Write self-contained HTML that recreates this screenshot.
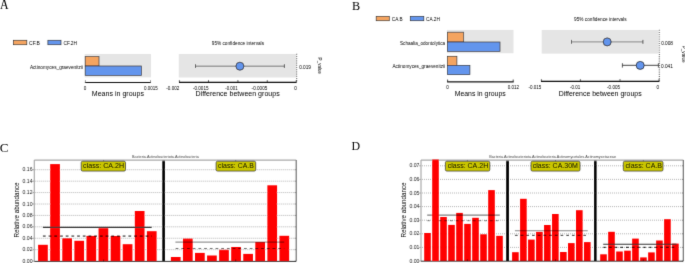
<!DOCTYPE html>
<html><head><meta charset="utf-8"><style>
html,body{margin:0;padding:0;background:#fff;width:685px;height:263px;overflow:hidden}
svg{display:block;will-change:transform}
</style></head><body>
<svg width="685" height="263" viewBox="0 0 685 263">
<defs><filter id="bl" x="-1%" y="-1%" width="102%" height="102%"><feConvolveMatrix order="3" kernelMatrix="0.0100 0.0800 0.0100 0.0800 0.6400 0.0800 0.0100 0.0800 0.0100" divisor="1" edgeMode="duplicate" preserveAlpha="false"/></filter></defs>
<rect x="0" y="0" width="685" height="263" fill="#fff"/>
<g filter="url(#bl)">
<text x="0" y="0" font-size="12.2" fill="#000" style='font-family:"Liberation Serif", serif' transform="translate(0.1 8.7) scale(0.97 1.15)">A</text>
<text x="0" y="0" font-size="12.2" fill="#000" style='font-family:"Liberation Serif", serif' transform="translate(352.1 9.8) scale(1.0 1.08)">B</text>
<text x="0" y="0" font-size="12.4" fill="#000" style='font-family:"Liberation Serif", serif' transform="translate(-0.2 151.6) scale(1.06 1.08)">C</text>
<text x="0" y="0" font-size="11.9" fill="#000" style='font-family:"Liberation Serif", serif' transform="translate(351.6 150.3) scale(1.0 1.08)">D</text>
<rect x="13.40" y="40.30" width="13.40" height="4.40" fill="#f4a460" stroke="#333" stroke-width="0.7" />
<text x="29.0" y="44.6" font-size="4.7" text-anchor="start" fill="#000" style='font-family:"Liberation Sans", sans-serif' textLength="10.9" lengthAdjust="spacingAndGlyphs" >CF.B</text>
<rect x="47.90" y="40.30" width="13.10" height="4.40" fill="#6495ed" stroke="#333" stroke-width="0.7" />
<text x="63.6" y="44.6" font-size="4.7" text-anchor="start" fill="#000" style='font-family:"Liberation Sans", sans-serif' textLength="13.4" lengthAdjust="spacingAndGlyphs" >CF.2H</text>
<rect x="84.70" y="54.00" width="66.30" height="23.40" fill="#e5e5e5" />
<rect x="85.20" y="56.40" width="13.80" height="9.60" fill="#f4a460" stroke="#333" stroke-width="0.7" />
<rect x="85.20" y="66.00" width="56.30" height="9.50" fill="#6495ed" stroke="#333" stroke-width="0.7" />
<text x="82.9" y="68.5" font-size="4.7" text-anchor="end" fill="#000" style='font-family:"Liberation Sans", sans-serif' textLength="53.0" lengthAdjust="spacingAndGlyphs" >Actinomyces_graevenitzii</text>
<line x1="84.90" y1="82.50" x2="150.90" y2="82.50" stroke="#111" stroke-width="1.1" />
<line x1="85.40" y1="80.20" x2="85.40" y2="82.50" stroke="#777" stroke-width="0.8" />
<line x1="150.50" y1="80.20" x2="150.50" y2="82.50" stroke="#777" stroke-width="0.8" />
<text x="85.0" y="89.6" font-size="4.6" text-anchor="middle" fill="#000" style='font-family:"Liberation Sans", sans-serif' >0</text>
<text x="150.9" y="89.6" font-size="4.6" text-anchor="middle" fill="#000" style='font-family:"Liberation Sans", sans-serif' textLength="13.7" lengthAdjust="spacingAndGlyphs" >0.0015</text>
<text x="91.8" y="96.2" font-size="7.0" text-anchor="start" fill="#000" style='font-family:"Liberation Sans", sans-serif' textLength="52.2" lengthAdjust="spacingAndGlyphs" >Means in groups</text>
<text x="211.8" y="45.2" font-size="4.7" text-anchor="start" fill="#000" style='font-family:"Liberation Sans", sans-serif' textLength="52.2" lengthAdjust="spacingAndGlyphs" >95% confidence intervals</text>
<rect x="178.80" y="54.00" width="117.70" height="23.50" fill="#e5e5e5" />
<line x1="296.70" y1="53.80" x2="296.70" y2="82.00" stroke="#222" stroke-width="0.8" stroke-dasharray="1 1.2"/>
<line x1="195.30" y1="66.20" x2="284.50" y2="66.20" stroke="#999" stroke-width="1.4" />
<line x1="195.50" y1="64.20" x2="195.50" y2="68.00" stroke="#444" stroke-width="0.9" />
<line x1="284.40" y1="64.20" x2="284.40" y2="68.00" stroke="#444" stroke-width="0.9" />
<circle cx="239.9" cy="66.2" r="4.0" fill="#6495ed" stroke="#222" stroke-width="0.8"/>
<line x1="179.00" y1="82.30" x2="296.60" y2="82.30" stroke="#111" stroke-width="1.2" />
<line x1="179.40" y1="80.20" x2="179.40" y2="82.30" stroke="#111" stroke-width="0.7" />
<line x1="208.50" y1="80.20" x2="208.50" y2="82.30" stroke="#111" stroke-width="0.7" />
<line x1="237.90" y1="80.20" x2="237.90" y2="82.30" stroke="#111" stroke-width="0.7" />
<line x1="267.30" y1="80.20" x2="267.30" y2="82.30" stroke="#111" stroke-width="0.7" />
<line x1="296.30" y1="80.20" x2="296.30" y2="82.30" stroke="#111" stroke-width="0.7" />
<text x="179.3" y="89.5" font-size="4.6" text-anchor="end" fill="#000" style='font-family:"Liberation Sans", sans-serif' textLength="13.0" lengthAdjust="spacingAndGlyphs" >-0.002</text>
<text x="208.6" y="89.5" font-size="4.6" text-anchor="end" fill="#000" style='font-family:"Liberation Sans", sans-serif' textLength="15.7" lengthAdjust="spacingAndGlyphs" >-0.0015</text>
<text x="237.6" y="89.5" font-size="4.6" text-anchor="end" fill="#000" style='font-family:"Liberation Sans", sans-serif' textLength="12.3" lengthAdjust="spacingAndGlyphs" >-0.001</text>
<text x="267.3" y="89.5" font-size="4.6" text-anchor="end" fill="#000" style='font-family:"Liberation Sans", sans-serif' textLength="15.7" lengthAdjust="spacingAndGlyphs" >-0.0005</text>
<text x="296.8" y="89.5" font-size="4.6" text-anchor="end" fill="#000" style='font-family:"Liberation Sans", sans-serif' textLength="2.6" lengthAdjust="spacingAndGlyphs" >0</text>
<text x="195.5" y="96.1" font-size="7.0" text-anchor="start" fill="#000" style='font-family:"Liberation Sans", sans-serif' textLength="84.2" lengthAdjust="spacingAndGlyphs" >Difference between groups</text>
<text x="299.2" y="68.8" font-size="4.6" text-anchor="start" fill="#000" style='font-family:"Liberation Sans", sans-serif' textLength="11.8" lengthAdjust="spacingAndGlyphs" >0.019</text>
<text x="318.0" y="57.6" font-size="4.6" text-anchor="start" fill="#000" style='font-family:"Liberation Sans", sans-serif' textLength="16.4" lengthAdjust="spacingAndGlyphs" transform="rotate(90 318.0 57.6)" >P_value</text>
<rect x="376.20" y="16.40" width="13.10" height="4.30" fill="#f4a460" stroke="#333" stroke-width="0.7" />
<text x="391.8" y="20.5" font-size="4.7" text-anchor="start" fill="#000" style='font-family:"Liberation Sans", sans-serif' textLength="10.9" lengthAdjust="spacingAndGlyphs" >CA.B</text>
<rect x="410.30" y="16.40" width="13.50" height="4.30" fill="#6495ed" stroke="#333" stroke-width="0.7" />
<text x="426.0" y="20.5" font-size="4.7" text-anchor="start" fill="#000" style='font-family:"Liberation Sans", sans-serif' textLength="13.9" lengthAdjust="spacingAndGlyphs" >CA.2H</text>
<rect x="446.90" y="29.90" width="66.60" height="23.30" fill="#e5e5e5" />
<rect x="447.50" y="32.20" width="16.20" height="9.80" fill="#f4a460" stroke="#333" stroke-width="0.7" />
<rect x="447.50" y="42.00" width="52.50" height="9.50" fill="#6495ed" stroke="#333" stroke-width="0.7" />
<rect x="447.50" y="56.30" width="9.40" height="9.10" fill="#f4a460" stroke="#333" stroke-width="0.7" />
<rect x="447.50" y="65.40" width="22.40" height="9.20" fill="#6495ed" stroke="#333" stroke-width="0.7" />
<text x="445.2" y="45.2" font-size="4.7" text-anchor="end" fill="#000" style='font-family:"Liberation Sans", sans-serif' textLength="45.2" lengthAdjust="spacingAndGlyphs" >Schaalia_odontolytica</text>
<text x="445.2" y="68.4" font-size="4.7" text-anchor="end" fill="#000" style='font-family:"Liberation Sans", sans-serif' textLength="52.8" lengthAdjust="spacingAndGlyphs" >Actinomyces_graevenitzii</text>
<line x1="447.20" y1="81.80" x2="513.60" y2="81.80" stroke="#111" stroke-width="1.2" />
<line x1="447.60" y1="79.60" x2="447.60" y2="81.80" stroke="#111" stroke-width="0.8" />
<line x1="513.20" y1="79.60" x2="513.20" y2="81.80" stroke="#111" stroke-width="0.8" />
<text x="447.5" y="88.8" font-size="4.6" text-anchor="middle" fill="#000" style='font-family:"Liberation Sans", sans-serif' >0</text>
<text x="513.4" y="88.8" font-size="4.6" text-anchor="middle" fill="#000" style='font-family:"Liberation Sans", sans-serif' textLength="11.4" lengthAdjust="spacingAndGlyphs" >0.012</text>
<text x="454.7" y="96.0" font-size="7.0" text-anchor="start" fill="#000" style='font-family:"Liberation Sans", sans-serif' textLength="51.0" lengthAdjust="spacingAndGlyphs" >Means in groups</text>
<text x="574.0" y="21.2" font-size="4.7" text-anchor="start" fill="#000" style='font-family:"Liberation Sans", sans-serif' textLength="52.6" lengthAdjust="spacingAndGlyphs" >95% confidence intervals</text>
<rect x="541.70" y="30.00" width="116.90" height="23.60" fill="#e5e5e5" />
<line x1="659.30" y1="29.80" x2="659.30" y2="81.00" stroke="#222" stroke-width="0.8" stroke-dasharray="1 1.2"/>
<line x1="571.40" y1="41.90" x2="642.90" y2="41.90" stroke="#999" stroke-width="1.4" />
<line x1="571.50" y1="39.90" x2="571.50" y2="43.80" stroke="#444" stroke-width="0.9" />
<line x1="642.90" y1="39.90" x2="642.90" y2="43.80" stroke="#444" stroke-width="0.9" />
<circle cx="607.2" cy="41.9" r="4.0" fill="#6495ed" stroke="#222" stroke-width="0.8"/>
<line x1="622.30" y1="65.30" x2="658.40" y2="65.30" stroke="#444" stroke-width="1.0" />
<line x1="622.40" y1="63.20" x2="622.40" y2="67.60" stroke="#444" stroke-width="0.9" />
<line x1="658.40" y1="63.20" x2="658.40" y2="67.60" stroke="#444" stroke-width="0.9" />
<circle cx="640.2" cy="65.4" r="4.0" fill="#6495ed" stroke="#222" stroke-width="0.8"/>
<line x1="541.00" y1="81.40" x2="659.40" y2="81.40" stroke="#111" stroke-width="1.2" />
<line x1="541.40" y1="79.20" x2="541.40" y2="81.40" stroke="#111" stroke-width="0.7" />
<line x1="580.40" y1="79.20" x2="580.40" y2="81.40" stroke="#111" stroke-width="0.7" />
<line x1="620.00" y1="79.20" x2="620.00" y2="81.40" stroke="#111" stroke-width="0.7" />
<line x1="659.00" y1="79.20" x2="659.00" y2="81.40" stroke="#111" stroke-width="0.7" />
<text x="541.3" y="88.8" font-size="4.6" text-anchor="end" fill="#000" style='font-family:"Liberation Sans", sans-serif' textLength="12.8" lengthAdjust="spacingAndGlyphs" >-0.015</text>
<text x="580.2" y="88.8" font-size="4.6" text-anchor="end" fill="#000" style='font-family:"Liberation Sans", sans-serif' textLength="10.3" lengthAdjust="spacingAndGlyphs" >-0.01</text>
<text x="620.0" y="88.8" font-size="4.6" text-anchor="end" fill="#000" style='font-family:"Liberation Sans", sans-serif' textLength="12.9" lengthAdjust="spacingAndGlyphs" >-0.005</text>
<text x="659.1" y="88.8" font-size="4.6" text-anchor="end" fill="#000" style='font-family:"Liberation Sans", sans-serif' textLength="2.6" lengthAdjust="spacingAndGlyphs" >0</text>
<text x="558.7" y="96.1" font-size="7.0" text-anchor="start" fill="#000" style='font-family:"Liberation Sans", sans-serif' textLength="83.0" lengthAdjust="spacingAndGlyphs" >Difference between groups</text>
<text x="661.2" y="44.6" font-size="4.6" text-anchor="start" fill="#000" style='font-family:"Liberation Sans", sans-serif' textLength="11.8" lengthAdjust="spacingAndGlyphs" >0.008</text>
<text x="661.0" y="67.8" font-size="4.6" text-anchor="start" fill="#000" style='font-family:"Liberation Sans", sans-serif' textLength="11.8" lengthAdjust="spacingAndGlyphs" >0.041</text>
<text x="682.0" y="45.5" font-size="4.6" text-anchor="start" fill="#000" style='font-family:"Liberation Sans", sans-serif' textLength="17.2" lengthAdjust="spacingAndGlyphs" transform="rotate(90 682.0 45.5)" >P_value</text>
<line x1="32.50" y1="261.10" x2="34.30" y2="261.10" stroke="#555" stroke-width="0.6" />
<line x1="294.70" y1="261.10" x2="296.20" y2="261.10" stroke="#555" stroke-width="0.6" />
<text x="32.5" y="262.70000000000005" font-size="4.5" text-anchor="end" fill="#222" style='font-family:"Liberation Sans", sans-serif' textLength="10.0" lengthAdjust="spacingAndGlyphs" >0.00</text>
<line x1="35.30" y1="249.68" x2="295.20" y2="249.68" stroke="#b4b4b4" stroke-width="1.0" stroke-dasharray="1 1"/>
<line x1="32.50" y1="249.68" x2="34.30" y2="249.68" stroke="#555" stroke-width="0.6" />
<line x1="294.70" y1="249.68" x2="296.20" y2="249.68" stroke="#555" stroke-width="0.6" />
<text x="32.5" y="251.28000000000003" font-size="4.5" text-anchor="end" fill="#222" style='font-family:"Liberation Sans", sans-serif' textLength="10.0" lengthAdjust="spacingAndGlyphs" >0.02</text>
<line x1="35.30" y1="238.26" x2="295.20" y2="238.26" stroke="#b4b4b4" stroke-width="1.0" stroke-dasharray="1 1"/>
<line x1="32.50" y1="238.26" x2="34.30" y2="238.26" stroke="#555" stroke-width="0.6" />
<line x1="294.70" y1="238.26" x2="296.20" y2="238.26" stroke="#555" stroke-width="0.6" />
<text x="32.5" y="239.86" font-size="4.5" text-anchor="end" fill="#222" style='font-family:"Liberation Sans", sans-serif' textLength="10.0" lengthAdjust="spacingAndGlyphs" >0.04</text>
<line x1="35.30" y1="226.84" x2="295.20" y2="226.84" stroke="#b4b4b4" stroke-width="1.0" stroke-dasharray="1 1"/>
<line x1="32.50" y1="226.84" x2="34.30" y2="226.84" stroke="#555" stroke-width="0.6" />
<line x1="294.70" y1="226.84" x2="296.20" y2="226.84" stroke="#555" stroke-width="0.6" />
<text x="32.5" y="228.44000000000003" font-size="4.5" text-anchor="end" fill="#222" style='font-family:"Liberation Sans", sans-serif' textLength="10.0" lengthAdjust="spacingAndGlyphs" >0.06</text>
<line x1="35.30" y1="215.42" x2="295.20" y2="215.42" stroke="#b4b4b4" stroke-width="1.0" stroke-dasharray="1 1"/>
<line x1="32.50" y1="215.42" x2="34.30" y2="215.42" stroke="#555" stroke-width="0.6" />
<line x1="294.70" y1="215.42" x2="296.20" y2="215.42" stroke="#555" stroke-width="0.6" />
<text x="32.5" y="217.02" font-size="4.5" text-anchor="end" fill="#222" style='font-family:"Liberation Sans", sans-serif' textLength="10.0" lengthAdjust="spacingAndGlyphs" >0.08</text>
<line x1="35.30" y1="204.00" x2="295.20" y2="204.00" stroke="#b4b4b4" stroke-width="1.0" stroke-dasharray="1 1"/>
<line x1="32.50" y1="204.00" x2="34.30" y2="204.00" stroke="#555" stroke-width="0.6" />
<line x1="294.70" y1="204.00" x2="296.20" y2="204.00" stroke="#555" stroke-width="0.6" />
<text x="32.5" y="205.60000000000002" font-size="4.5" text-anchor="end" fill="#222" style='font-family:"Liberation Sans", sans-serif' textLength="10.0" lengthAdjust="spacingAndGlyphs" >0.10</text>
<line x1="35.30" y1="192.58" x2="295.20" y2="192.58" stroke="#b4b4b4" stroke-width="1.0" stroke-dasharray="1 1"/>
<line x1="32.50" y1="192.58" x2="34.30" y2="192.58" stroke="#555" stroke-width="0.6" />
<line x1="294.70" y1="192.58" x2="296.20" y2="192.58" stroke="#555" stroke-width="0.6" />
<text x="32.5" y="194.18000000000004" font-size="4.5" text-anchor="end" fill="#222" style='font-family:"Liberation Sans", sans-serif' textLength="10.0" lengthAdjust="spacingAndGlyphs" >0.12</text>
<line x1="35.30" y1="181.16" x2="295.20" y2="181.16" stroke="#b4b4b4" stroke-width="1.0" stroke-dasharray="1 1"/>
<line x1="32.50" y1="181.16" x2="34.30" y2="181.16" stroke="#555" stroke-width="0.6" />
<line x1="294.70" y1="181.16" x2="296.20" y2="181.16" stroke="#555" stroke-width="0.6" />
<text x="32.5" y="182.76000000000002" font-size="4.5" text-anchor="end" fill="#222" style='font-family:"Liberation Sans", sans-serif' textLength="10.0" lengthAdjust="spacingAndGlyphs" >0.14</text>
<line x1="35.30" y1="169.74" x2="295.20" y2="169.74" stroke="#b4b4b4" stroke-width="1.0" stroke-dasharray="1 1"/>
<line x1="32.50" y1="169.74" x2="34.30" y2="169.74" stroke="#555" stroke-width="0.6" />
<line x1="294.70" y1="169.74" x2="296.20" y2="169.74" stroke="#555" stroke-width="0.6" />
<text x="32.5" y="171.34" font-size="4.5" text-anchor="end" fill="#222" style='font-family:"Liberation Sans", sans-serif' textLength="10.0" lengthAdjust="spacingAndGlyphs" >0.16</text>
<rect x="38.10" y="244.80" width="9.70" height="16.30" fill="#ff0000" />
<rect x="50.19" y="164.10" width="9.70" height="97.00" fill="#ff0000" />
<rect x="62.28" y="238.30" width="9.70" height="22.80" fill="#ff0000" />
<rect x="74.37" y="240.80" width="9.70" height="20.30" fill="#ff0000" />
<rect x="86.46" y="235.90" width="9.70" height="25.20" fill="#ff0000" />
<rect x="98.55" y="228.20" width="9.70" height="32.90" fill="#ff0000" />
<rect x="110.64" y="236.00" width="9.70" height="25.10" fill="#ff0000" />
<rect x="122.73" y="244.20" width="9.70" height="16.90" fill="#ff0000" />
<rect x="134.82" y="211.00" width="9.70" height="50.10" fill="#ff0000" />
<rect x="146.91" y="231.20" width="9.70" height="29.90" fill="#ff0000" />
<line x1="42.90" y1="227.40" x2="151.70" y2="227.40" stroke="#333" stroke-width="1.1" />
<line x1="42.90" y1="236.20" x2="151.70" y2="236.20" stroke="rgba(0,0,0,0.78)" stroke-width="1.2" stroke-dasharray="2.8 2.9"/>
<rect x="170.90" y="257.00" width="9.70" height="4.10" fill="#ff0000" />
<rect x="182.96" y="238.60" width="9.70" height="22.50" fill="#ff0000" />
<rect x="195.02" y="252.90" width="9.70" height="8.20" fill="#ff0000" />
<rect x="207.08" y="255.50" width="9.70" height="5.60" fill="#ff0000" />
<rect x="219.14" y="249.80" width="9.70" height="11.30" fill="#ff0000" />
<rect x="231.20" y="247.00" width="9.70" height="14.10" fill="#ff0000" />
<rect x="243.26" y="253.90" width="9.70" height="7.20" fill="#ff0000" />
<rect x="255.32" y="242.10" width="9.70" height="19.00" fill="#ff0000" />
<rect x="267.38" y="185.30" width="9.70" height="75.80" fill="#ff0000" />
<rect x="279.44" y="235.80" width="9.70" height="25.30" fill="#ff0000" />
<line x1="175.40" y1="242.10" x2="284.20" y2="242.10" stroke="rgba(0,0,0,0.42)" stroke-width="1.1" />
<line x1="175.60" y1="248.50" x2="284.20" y2="248.50" stroke="rgba(0,0,0,0.65)" stroke-width="1.2" stroke-dasharray="2.8 2.9"/>
<rect x="162.30" y="160.10" width="2.60" height="101.10" fill="#000" />
<line x1="34.30" y1="160.10" x2="296.20" y2="160.10" stroke="#aaa" stroke-width="1.2" />
<line x1="34.30" y1="160.10" x2="34.30" y2="261.20" stroke="#aaa" stroke-width="1.2" />
<line x1="296.20" y1="160.10" x2="296.20" y2="261.20" stroke="#666" stroke-width="1.1" />
<line x1="34.30" y1="261.40" x2="296.20" y2="261.40" stroke="#333" stroke-width="1.0" />
<line x1="103.60" y1="160.10" x2="103.60" y2="161.60" stroke="#444" stroke-width="0.6" />
<line x1="103.60" y1="259.60" x2="103.60" y2="261.20" stroke="#300" stroke-width="0.7" />
<line x1="235.70" y1="160.10" x2="235.70" y2="161.60" stroke="#444" stroke-width="0.6" />
<line x1="235.70" y1="259.60" x2="235.70" y2="261.20" stroke="#300" stroke-width="0.7" />
<rect x="81.20" y="161.20" width="44.30" height="9.90" fill="#c9c500" stroke="#333" stroke-width="0.75" rx="1.5" ry="1.5"/>
<text x="83.1" y="168.1" font-size="6.8" text-anchor="start" fill="#000" style='font-family:"Liberation Sans", sans-serif' textLength="40.9" lengthAdjust="spacingAndGlyphs" >class: CA.2H</text>
<rect x="216.10" y="161.20" width="39.60" height="9.90" fill="#c9c500" stroke="#333" stroke-width="0.75" rx="1.5" ry="1.5"/>
<text x="218.1" y="168.1" font-size="6.8" text-anchor="start" fill="#000" style='font-family:"Liberation Sans", sans-serif' textLength="35.7" lengthAdjust="spacingAndGlyphs" >class: CA.B</text>
<text x="132.1" y="157.8" font-size="3.8" text-anchor="start" fill="#444" style='font-family:"Liberation Sans", sans-serif' textLength="66.7" lengthAdjust="spacingAndGlyphs" >Bacteria.Actinobacteriota.Actinobacteria</text>
<text x="18.9" y="210.0" font-size="6.9" text-anchor="middle" fill="#000" style='font-family:"Liberation Sans", sans-serif' textLength="55.0" lengthAdjust="spacingAndGlyphs" transform="rotate(-90 18.9 210.0)" >Relative abundance</text>
<line x1="419.20" y1="261.00" x2="421.00" y2="261.00" stroke="#555" stroke-width="0.6" />
<line x1="681.80" y1="261.00" x2="683.30" y2="261.00" stroke="#555" stroke-width="0.6" />
<text x="419.4" y="262.6" font-size="4.5" text-anchor="end" fill="#222" style='font-family:"Liberation Sans", sans-serif' textLength="10.0" lengthAdjust="spacingAndGlyphs" >0.00</text>
<line x1="422.00" y1="247.40" x2="682.30" y2="247.40" stroke="#b4b4b4" stroke-width="1.0" stroke-dasharray="1 1"/>
<line x1="419.20" y1="247.40" x2="421.00" y2="247.40" stroke="#555" stroke-width="0.6" />
<line x1="681.80" y1="247.40" x2="683.30" y2="247.40" stroke="#555" stroke-width="0.6" />
<text x="419.4" y="249.0" font-size="4.5" text-anchor="end" fill="#222" style='font-family:"Liberation Sans", sans-serif' textLength="10.0" lengthAdjust="spacingAndGlyphs" >0.01</text>
<line x1="422.00" y1="233.80" x2="682.30" y2="233.80" stroke="#b4b4b4" stroke-width="1.0" stroke-dasharray="1 1"/>
<line x1="419.20" y1="233.80" x2="421.00" y2="233.80" stroke="#555" stroke-width="0.6" />
<line x1="681.80" y1="233.80" x2="683.30" y2="233.80" stroke="#555" stroke-width="0.6" />
<text x="419.4" y="235.4" font-size="4.5" text-anchor="end" fill="#222" style='font-family:"Liberation Sans", sans-serif' textLength="10.0" lengthAdjust="spacingAndGlyphs" >0.02</text>
<line x1="422.00" y1="220.20" x2="682.30" y2="220.20" stroke="#b4b4b4" stroke-width="1.0" stroke-dasharray="1 1"/>
<line x1="419.20" y1="220.20" x2="421.00" y2="220.20" stroke="#555" stroke-width="0.6" />
<line x1="681.80" y1="220.20" x2="683.30" y2="220.20" stroke="#555" stroke-width="0.6" />
<text x="419.4" y="221.79999999999998" font-size="4.5" text-anchor="end" fill="#222" style='font-family:"Liberation Sans", sans-serif' textLength="10.0" lengthAdjust="spacingAndGlyphs" >0.03</text>
<line x1="422.00" y1="206.60" x2="682.30" y2="206.60" stroke="#b4b4b4" stroke-width="1.0" stroke-dasharray="1 1"/>
<line x1="419.20" y1="206.60" x2="421.00" y2="206.60" stroke="#555" stroke-width="0.6" />
<line x1="681.80" y1="206.60" x2="683.30" y2="206.60" stroke="#555" stroke-width="0.6" />
<text x="419.4" y="208.2" font-size="4.5" text-anchor="end" fill="#222" style='font-family:"Liberation Sans", sans-serif' textLength="10.0" lengthAdjust="spacingAndGlyphs" >0.04</text>
<line x1="422.00" y1="193.00" x2="682.30" y2="193.00" stroke="#b4b4b4" stroke-width="1.0" stroke-dasharray="1 1"/>
<line x1="419.20" y1="193.00" x2="421.00" y2="193.00" stroke="#555" stroke-width="0.6" />
<line x1="681.80" y1="193.00" x2="683.30" y2="193.00" stroke="#555" stroke-width="0.6" />
<text x="419.4" y="194.6" font-size="4.5" text-anchor="end" fill="#222" style='font-family:"Liberation Sans", sans-serif' textLength="10.0" lengthAdjust="spacingAndGlyphs" >0.05</text>
<line x1="422.00" y1="179.40" x2="682.30" y2="179.40" stroke="#b4b4b4" stroke-width="1.0" stroke-dasharray="1 1"/>
<line x1="419.20" y1="179.40" x2="421.00" y2="179.40" stroke="#555" stroke-width="0.6" />
<line x1="681.80" y1="179.40" x2="683.30" y2="179.40" stroke="#555" stroke-width="0.6" />
<text x="419.4" y="181.0" font-size="4.5" text-anchor="end" fill="#222" style='font-family:"Liberation Sans", sans-serif' textLength="10.0" lengthAdjust="spacingAndGlyphs" >0.06</text>
<line x1="422.00" y1="165.80" x2="682.30" y2="165.80" stroke="#b4b4b4" stroke-width="1.0" stroke-dasharray="1 1"/>
<line x1="419.20" y1="165.80" x2="421.00" y2="165.80" stroke="#555" stroke-width="0.6" />
<line x1="681.80" y1="165.80" x2="683.30" y2="165.80" stroke="#555" stroke-width="0.6" />
<text x="419.4" y="167.4" font-size="4.5" text-anchor="end" fill="#222" style='font-family:"Liberation Sans", sans-serif' textLength="10.0" lengthAdjust="spacingAndGlyphs" >0.07</text>
<rect x="424.20" y="233.00" width="6.60" height="28.00" fill="#ff0000" />
<rect x="440.20" y="217.00" width="6.60" height="44.00" fill="#ff0000" />
<rect x="448.20" y="224.90" width="6.60" height="36.10" fill="#ff0000" />
<rect x="456.20" y="212.90" width="6.60" height="48.10" fill="#ff0000" />
<rect x="464.20" y="223.90" width="6.60" height="37.10" fill="#ff0000" />
<rect x="472.20" y="217.80" width="6.60" height="43.20" fill="#ff0000" />
<rect x="480.20" y="234.20" width="6.60" height="26.80" fill="#ff0000" />
<rect x="488.20" y="190.10" width="6.60" height="70.90" fill="#ff0000" />
<rect x="496.20" y="235.80" width="6.60" height="25.20" fill="#ff0000" />
<line x1="427.20" y1="215.10" x2="499.80" y2="215.10" stroke="rgba(0,0,0,0.5)" stroke-width="1.1" />
<line x1="427.20" y1="220.70" x2="498.70" y2="220.70" stroke="rgba(0,0,0,0.42)" stroke-width="1.2" stroke-dasharray="2.8 2.9"/>
<rect x="512.10" y="252.20" width="6.60" height="8.80" fill="#ff0000" />
<rect x="520.09" y="198.80" width="6.60" height="62.20" fill="#ff0000" />
<rect x="528.08" y="239.60" width="6.60" height="21.40" fill="#ff0000" />
<rect x="536.07" y="231.90" width="6.60" height="29.10" fill="#ff0000" />
<rect x="544.06" y="225.00" width="6.60" height="36.00" fill="#ff0000" />
<rect x="552.05" y="214.00" width="6.60" height="47.00" fill="#ff0000" />
<rect x="560.04" y="252.00" width="6.60" height="9.00" fill="#ff0000" />
<rect x="568.03" y="243.10" width="6.60" height="17.90" fill="#ff0000" />
<rect x="576.02" y="210.20" width="6.60" height="50.80" fill="#ff0000" />
<rect x="584.01" y="242.10" width="6.60" height="18.90" fill="#ff0000" />
<line x1="514.90" y1="230.80" x2="587.70" y2="230.80" stroke="rgba(0,0,0,0.47)" stroke-width="1.1" />
<line x1="514.90" y1="235.30" x2="586.00" y2="235.30" stroke="rgba(0,0,0,0.65)" stroke-width="1.2" stroke-dasharray="2.8 2.9"/>
<rect x="600.20" y="254.30" width="6.60" height="6.70" fill="#ff0000" />
<rect x="608.19" y="231.80" width="6.60" height="29.20" fill="#ff0000" />
<rect x="616.18" y="251.50" width="6.60" height="9.50" fill="#ff0000" />
<rect x="624.17" y="250.70" width="6.60" height="10.30" fill="#ff0000" />
<rect x="632.16" y="238.60" width="6.60" height="22.40" fill="#ff0000" />
<rect x="640.15" y="257.40" width="6.60" height="3.60" fill="#ff0000" />
<rect x="648.14" y="252.40" width="6.60" height="8.60" fill="#ff0000" />
<rect x="656.13" y="240.50" width="6.60" height="20.50" fill="#ff0000" />
<rect x="664.12" y="219.20" width="6.60" height="41.80" fill="#ff0000" />
<rect x="672.11" y="243.60" width="6.60" height="17.40" fill="#ff0000" />
<line x1="603.20" y1="244.20" x2="676.60" y2="244.20" stroke="#333" stroke-width="1.1" />
<line x1="603.20" y1="247.40" x2="674.20" y2="247.40" stroke="rgba(0,0,0,0.8)" stroke-width="1.2" stroke-dasharray="2.8 2.9"/>
<rect x="506.20" y="160.10" width="2.70" height="100.90" fill="#000" />
<rect x="594.10" y="160.10" width="2.50" height="100.90" fill="#000" />
<line x1="421.00" y1="160.10" x2="683.30" y2="160.10" stroke="#aaa" stroke-width="1.2" />
<line x1="421.00" y1="160.10" x2="421.00" y2="261.00" stroke="#aaa" stroke-width="1.2" />
<line x1="683.30" y1="160.10" x2="683.30" y2="261.00" stroke="#666" stroke-width="1.1" />
<line x1="421.00" y1="261.20" x2="683.30" y2="261.20" stroke="#333" stroke-width="1.0" />
<rect x="432.20" y="159.50" width="6.60" height="101.50" fill="#ff0000" />
<line x1="467.40" y1="160.10" x2="467.40" y2="161.60" stroke="#444" stroke-width="0.6" />
<line x1="467.40" y1="259.40" x2="467.40" y2="261.00" stroke="#300" stroke-width="0.7" />
<line x1="555.50" y1="160.10" x2="555.50" y2="161.60" stroke="#444" stroke-width="0.6" />
<line x1="555.50" y1="259.40" x2="555.50" y2="261.00" stroke="#300" stroke-width="0.7" />
<line x1="643.30" y1="160.10" x2="643.30" y2="161.60" stroke="#444" stroke-width="0.6" />
<line x1="643.30" y1="259.40" x2="643.30" y2="261.00" stroke="#300" stroke-width="0.7" />
<rect x="445.40" y="161.20" width="44.40" height="9.90" fill="#c9c500" stroke="#333" stroke-width="0.75" rx="1.5" ry="1.5"/>
<text x="447.7" y="168.1" font-size="6.8" text-anchor="start" fill="#000" style='font-family:"Liberation Sans", sans-serif' textLength="40.5" lengthAdjust="spacingAndGlyphs" >class: CA.2H</text>
<rect x="531.00" y="161.20" width="49.00" height="9.90" fill="#c9c500" stroke="#333" stroke-width="0.75" rx="1.5" ry="1.5"/>
<text x="532.7" y="168.1" font-size="6.8" text-anchor="start" fill="#000" style='font-family:"Liberation Sans", sans-serif' textLength="45.3" lengthAdjust="spacingAndGlyphs" >class: CA.30M</text>
<rect x="623.30" y="161.20" width="39.70" height="9.90" fill="#c9c500" stroke="#333" stroke-width="0.75" rx="1.5" ry="1.5"/>
<text x="625.6" y="168.1" font-size="6.8" text-anchor="start" fill="#000" style='font-family:"Liberation Sans", sans-serif' textLength="36.5" lengthAdjust="spacingAndGlyphs" >class: CA.B</text>
<text x="489.2" y="157.8" font-size="3.8" text-anchor="start" fill="#444" style='font-family:"Liberation Sans", sans-serif' textLength="126.8" lengthAdjust="spacingAndGlyphs" >Bacteria.Actinobacteriota.Actinobacteria.Actinomycetales.Actinomycetaceae</text>
<text x="405.9" y="210.0" font-size="6.9" text-anchor="middle" fill="#000" style='font-family:"Liberation Sans", sans-serif' textLength="55.0" lengthAdjust="spacingAndGlyphs" transform="rotate(-90 405.9 210.0)" >Relative abundance</text>
</g>
</svg>
</body></html>
